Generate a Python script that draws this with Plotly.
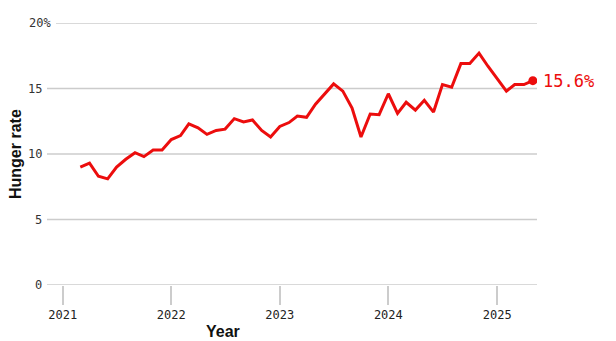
import plotly.graph_objects as go
import pandas as pd

# Monthly hunger rate (%), March 2021 – May 2025
start_month = "2021-03-01"
hunger_rate = [
    9.0, 9.3, 8.3, 8.1, 9.0, 9.6, 10.1, 9.8, 10.3, 10.3,            # 2021 Mar-Dec
    11.1, 11.4, 12.3, 12.0, 11.5, 11.8, 11.9, 12.7, 12.45, 12.6, 11.8, 11.3,  # 2022
    12.1, 12.4, 12.9, 12.8, 13.8, 14.6, 15.35, 14.8, 13.5, 11.3, 13.05, 13.0,  # 2023
    14.6, 13.1, 13.95, 13.35, 14.1, 13.2, 15.3, 15.1, 16.9, 16.9, 17.7, 16.7,  # 2024
    15.75, 14.8, 15.3, 15.3, 15.6,                                    # 2025 Jan-May
]
months = pd.date_range(start_month, periods=len(hunger_rate), freq="MS")

y_tickvals = [0, 5, 10, 15, 20]
y_ticktext = ["0", "5", "10", "15", "20%"]
x_tickvals = ["2021-01-01", "2022-01-01", "2023-01-01", "2024-01-01", "2025-01-01"]
x_ticktext = ["2021", "2022", "2023", "2024", "2025"]

RED = "#ec0d0d"
GRID = "#cccccc"
MONO = "DejaVu Sans Mono"
SANS = "Liberation Sans"

W, H = 616, 341
ML, MR, MT, MB = 47, 79, 23, 56
PW = W - ML - MR

fig = go.Figure()
fig.add_trace(go.Scatter(
    x=months, y=hunger_rate, mode="lines",
    line=dict(color=RED, width=3), hoverinfo="skip", showlegend=False,
))
fig.add_trace(go.Scatter(
    x=[months[-1]], y=[hunger_rate[-1]], mode="markers",
    marker=dict(color=RED, size=9), hoverinfo="skip", showlegend=False,
))

# Gridlines as shapes (top one starts after the "%" overhang)
for v, t in zip(y_tickvals, y_ticktext):
    x0 = 9 / PW if t.endswith("%") else 0
    fig.add_shape(type="line", xref="paper", yref="y", x0=x0, x1=1, y0=v, y1=v,
                  line=dict(color=GRID, width=1.6), layer="below")
    fig.add_annotation(
        xref="paper", yref="y", x=0, y=v, text=t, showarrow=False,
        xanchor="right", yanchor="middle",
        xshift=(5.5 if t.endswith("%") else -3),
        font=dict(family=MONO, size=12, color="#333333"),
    )

# End label
fig.add_annotation(
    x=months[-1], y=hunger_rate[-1], text=f"{hunger_rate[-1]:.1f}%",
    showarrow=False, xanchor="left", yanchor="middle", xshift=8, yshift=0,
    font=dict(family=MONO, size=17, color=RED),
)

# Axis titles
fig.add_annotation(
    xref="paper", yref="paper", x=(15 - ML) / PW, y=0.5, text="<b>Hunger rate</b>",
    textangle=-90, showarrow=False, xanchor="center", yanchor="middle",
    font=dict(family=SANS, size=16, color="#111111"),
)
fig.add_annotation(
    xref="paper", yref="paper", x=(222.5 - ML) / PW, y=0, yshift=-46, text="<b>Year</b>",
    showarrow=False, xanchor="center", yanchor="middle",
    font=dict(family=SANS, size=16, color="#111111"),
)

fig.update_layout(
    width=W, height=H,
    margin=dict(l=ML, r=MR, t=MT, b=MB, pad=0),
    paper_bgcolor="white", plot_bgcolor="white",
    xaxis=dict(
        type="date", range=["2020-11-09", "2025-05-15"],
        tickvals=x_tickvals, ticktext=x_ticktext,
        showgrid=False, zeroline=False, showline=False,
        ticks="outside", ticklen=19, tickwidth=1.5, tickcolor=GRID,
        tickfont=dict(family=MONO, size=12, color="#222222"),
    ),
    yaxis=dict(
        range=[0, 20], showgrid=False, zeroline=False, showline=False,
        showticklabels=False, ticks="",
    ),
)

fig.write_html("out.html")
